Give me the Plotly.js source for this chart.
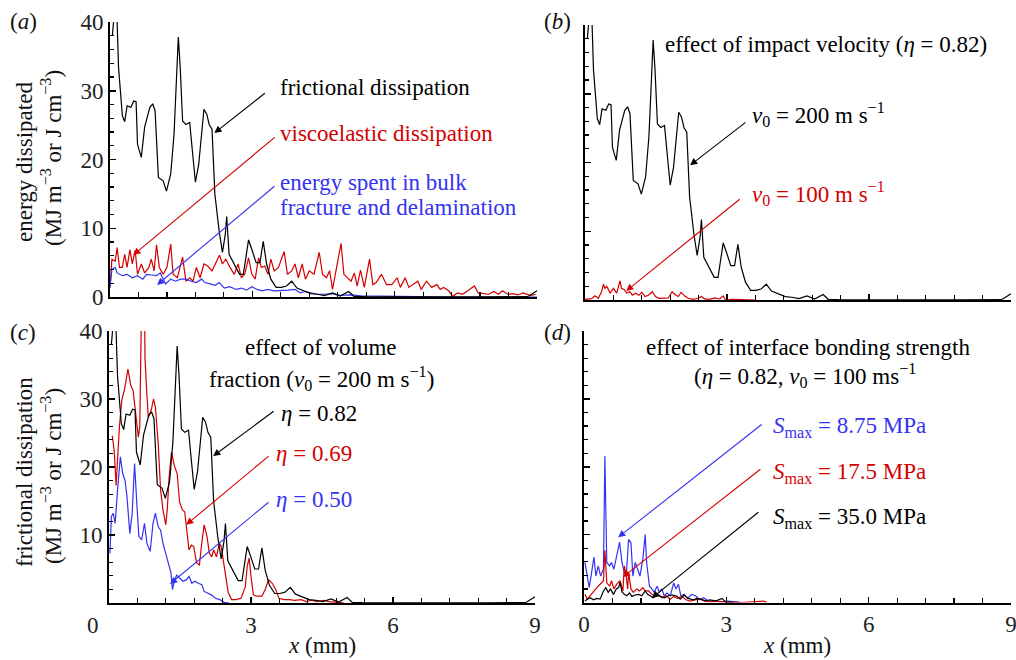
<!DOCTYPE html>
<html><head><meta charset="utf-8">
<script src="https://cdn.plot.ly/plotly-3.0.1.min.js"></script>
<style>html,body{margin:0;padding:0;background:#fff}#chart{width:1016px;height:660px}</style>
</head><body><div id="chart"></div>
<script>
// ---- data (x in mm, energy in MJ m^-3) ----
// frictional dissipation, eta = 0.82, v0 = 200 m/s (panels a, b, c)
const fricX = [0.05,0.1,0.15,0.18,0.26,0.31,0.36,0.44,0.50,0.55,0.58,0.66,0.73,0.84,0.90,0.95,1.02,1.12,1.19,1.28,1.35,1.41,1.44,1.48,1.53,1.60,1.68,1.73,1.80,1.87,1.93,1.98,2.04,2.09,2.15,2.21,2.30,2.37,2.43,2.46,2.51,2.62,2.73,2.81,2.86,2.92,2.99,3.08,3.16,3.23,3.30,3.39,3.50,3.61,3.72,3.83,3.94,4.08,4.23,4.37,4.52,4.69,4.85,5.03,5.14,5.36,6.0,7.0,8.0,8.8,9.0];
const fricY = [38,42,40,33.4,26.4,25.5,27.8,27.6,28.5,28.4,22.2,20.3,24.7,27.6,28.1,27.1,17.4,16.9,15.4,17.9,23.7,33.4,37.8,33.4,25.6,25.1,25.4,21.7,16.7,19.3,23.7,27.3,26.6,25.1,24.4,15.0,9.6,6.5,9.1,11.7,6.2,4.8,3.3,3.3,5.7,8.3,6.9,5.0,5.0,8.1,4.8,2.6,1.4,1.4,1.6,2.3,1.3,0.9,0.5,0.4,0.2,0.6,0.15,0.8,0.1,0.05,0.02,0.02,0.03,0.05,0.9];
// viscoelastic dissipation (panel a)
const viscX = [0,0.04,0.11,0.15,0.2,0.26,0.31,0.36,0.42,0.47,0.53,0.58,0.66,0.73,0.82,0.87,0.93,0.98,1.04,1.12,1.2,1.28,1.33,1.42,1.53,1.6,1.68,1.75,1.82,1.9,1.98,2.06,2.15,2.24,2.31,2.37,2.44,2.53,2.62,2.7,2.77,2.84,2.92,2.99,3.06,3.13,3.19,3.26,3.33,3.39,3.46,3.55,3.67,3.74,3.83,3.9,3.97,4.05,4.12,4.2,4.3,4.41,4.48,4.56,4.63,4.69,4.77,4.87,4.93,5.01,5.08,5.15,5.21,5.28,5.36,5.47,5.54,5.61,5.72,5.83,5.94,6.05,6.12,6.22,6.3,6.38,6.49,6.56,6.67,6.78,6.89,6.96,7.03,7.14,7.22,7.33,7.43,7.54,7.68,7.76,7.87,7.98,8.09,8.19,8.27,8.38,8.49,8.6,8.71,8.86,8.97];
const viscY = [1.4,5.5,5.2,7.2,4.3,4.3,6.2,4.3,6.9,4.8,6.8,3.3,4.8,3.5,4.3,5.5,3.8,7.6,4.3,3.3,4.3,7.7,3.3,2.8,5.8,2.3,2.8,2.3,4.3,2.8,4.8,4.5,3.8,5.2,6.1,4.8,5.5,4.3,3.3,4.8,2.8,3.3,5.7,3.3,2.6,5.7,4.3,4.5,3.3,5.5,3.8,4.3,6.6,3.3,3.8,4.8,2.8,4.8,2.6,3.8,3.3,6.5,3.3,2.8,3.8,1.1,4.3,7.8,3.3,2.8,2.3,3.5,1.6,3.9,1.4,5.5,1.8,2.1,3.3,1.8,1.8,2.8,1.4,2.8,1.4,1.8,2.3,1.1,2.3,1.4,1.8,1.1,1.4,0.9,0.1,0.6,0.4,0.9,1.6,0.6,0.5,0.4,0.8,0.4,0.9,0.4,0.5,0.3,0.6,0.2,0.4];
// energy spent in bulk fracture and delamination (panel a)
const bulkX = [0,0.04,0.11,0.15,0.26,0.36,0.47,0.58,0.69,0.77,0.88,0.98,1.06,1.17,1.28,1.38,1.49,1.6,1.71,1.82,1.93,2.0,2.11,2.22,2.3,2.41,2.52,2.66,2.77,2.88,2.99,3.1,3.21,3.32,3.46,3.61,3.75,3.9,4.01,4.12,4.23,4.37,4.52,4.7,4.85,5.07,5.29,5.65,6.0,6.5,7.2,9.0];
const bulkY = [1.4,4.0,4.3,3.5,3.1,3.3,2.8,3.1,2.6,3.3,3.2,3.1,3.5,1.9,2.6,2.3,2.6,2.6,2.3,2.1,2.6,2.1,1.9,1.7,2.1,1.3,1.5,1.1,1.3,1.0,1.5,1.1,0.9,1.1,0.9,0.9,1.0,1.1,0.6,0.8,0.6,0.4,0.4,0.5,0.25,0.3,0.15,0.1,0.05,0.05,0,0];
// frictional dissipation, v0 = 100 m/s (panel b)
const v100X = [0,0.14,0.21,0.28,0.35,0.39,0.42,0.46,0.53,0.6,0.67,0.74,0.77,0.83,0.88,0.95,1.0,1.07,1.14,1.2,1.27,1.34,1.42,1.49,1.56,1.65,1.76,1.84,1.9,1.97,2.03,2.1,2.18,2.29,2.39,2.46,2.53,2.64,2.74,2.85,2.92,2.97,3.09,3.31,3.59];
const v100Y = [0.1,0.2,0.6,0.25,1.2,2.3,1.7,2.0,1.0,1.7,1.0,2.8,1.7,1.5,1.0,1.2,0.7,1.0,0.7,1.1,0.5,0.7,1.2,0.5,0.25,0.3,0.3,1.2,0.8,0.5,1.1,0.6,0.25,0.1,0.25,0.5,0.15,0.1,0.3,0.15,0.6,0,0.1,0.05,0];
// frictional dissipation, eta = 0.69 (panel c)
const eta69X = [0.07,0.11,0.15,0.18,0.22,0.27,0.33,0.4,0.46,0.51,0.56,0.62,0.65,0.69,0.75,0.76,0.8,0.83,0.89,0.94,0.98,1.04,1.09,1.14,1.2,1.23,1.27,1.32,1.38,1.44,1.49,1.55,1.6,1.63,1.69,1.74,1.79,1.85,1.91,1.96,2.01,2.07,2.12,2.17,2.21,2.27,2.33,2.37,2.42,2.47,2.52,2.59,2.68,2.79,2.88,2.92,2.96,3.0,3.05,3.12,3.23,3.3,3.37,3.45,3.52,3.59,3.7,3.81,3.92,4.06,4.17,4.28,4.39,4.54,4.64,4.83,4.97];
const eta69Y = [24.6,22.4,17.3,22,25.9,29.8,31.5,34.4,32,31.2,28.3,24.4,25.9,45,45,36.1,30.7,27.3,28.3,30.0,28.8,23.4,16.6,13.7,11.5,13.7,18.5,22.2,20.2,19.0,14.9,13.7,13.4,11.7,7.8,8.5,8.3,5.9,5.6,8.8,11.5,9.8,7.3,6.8,7.8,6.8,8.8,8.3,5.9,3.4,1.5,0.5,0.5,0.7,2.4,5.4,6.6,3.9,1.2,1.0,1.0,2.0,3.4,2.9,2.0,0.7,0.5,0.5,0.4,0.5,0.2,0.4,0.2,0.4,0.2,0.1,0];
// frictional dissipation, eta = 0.50 (panel c)
const eta50X = [0.02,0.05,0.09,0.13,0.18,0.24,0.29,0.34,0.38,0.44,0.49,0.54,0.58,0.63,0.69,0.75,0.8,0.87,0.93,0.98,1.04,1.09,1.14,1.2,1.26,1.31,1.34,1.38,1.43,1.49,1.56,1.63,1.69,1.75,1.81,1.89,1.96,2.01,2.08,2.16,2.25,2.34,2.43,2.54];
const eta50Y = [7.3,12.7,13.2,11.7,16.6,21.5,19.0,18.0,15.6,10.2,13.2,20.5,15.6,9.8,9.3,11.7,8.8,7.6,11.7,13.2,11.2,10.7,8.8,7.3,5.4,4.4,2.0,3.2,4.1,3.7,3.2,3.4,3.9,2.9,3.2,2.9,2.7,1.7,1.5,1.2,0.7,0.5,0.1,0];
// interface bonding strength, eta = 0.82, v0 = 100 m/s (panel d)
const s875X = [0.02,0.06,0.11,0.16,0.21,0.25,0.3,0.35,0.41,0.44,0.48,0.54,0.58,0.63,0.69,0.75,0.8,0.85,0.89,0.94,0.99,1.03,1.08,1.13,1.18,1.24,1.29,1.32,1.38,1.43,1.48,1.54,1.59,1.64,1.69,1.75,1.82,1.89,1.94,1.99,2.04,2.11,2.18,2.27,2.35,2.44,2.52,2.63,2.73,2.87,3.01,3.23,3.3];
const s875Y = [5.9,3.9,2.2,4.4,6.7,3.9,5.4,3.9,4.9,21.6,5.9,5.4,5.9,4.9,6.8,8.9,5.9,4.4,3.9,9.3,8.8,3.9,5.9,4.9,3.9,6.4,10.0,5.9,2.4,2.0,1.5,2.4,1.5,2.0,1.0,1.4,1.0,2.9,2.0,2.7,1.0,1.2,0.6,1.2,1.0,0.4,0.7,0.2,0.3,0.1,0.2,0.1,0];
const s175X = [0.02,0.07,0.13,0.2,0.25,0.3,0.35,0.41,0.44,0.48,0.54,0.58,0.63,0.69,0.76,0.82,0.85,0.89,0.92,0.94,0.99,1.04,1.11,1.17,1.24,1.29,1.36,1.43,1.5,1.57,1.64,1.73,1.82,1.89,1.97,2.06,2.15,2.24,2.35,2.45,2.56,2.66,2.8,3.01,3.3,3.79,3.86];
const s175Y = [1.2,0.5,1.0,1.5,2.0,2.4,2.7,3.2,7.7,2.9,2.4,3.2,2.0,2.7,3.2,1.7,5.4,3.9,2.0,4.4,2.0,1.5,2.0,1.7,2.2,1.7,1.7,1.2,1.0,1.2,0.7,1.0,0.5,0.9,0.6,0.9,0.4,0.2,0.4,0.5,0.15,0.1,0.2,0.05,0,0.2,0];
const s350X = [0.02,0.13,0.2,0.27,0.34,0.41,0.46,0.51,0.56,0.62,0.68,0.73,0.76,0.8,0.85,0.9,0.96,1.01,1.08,1.15,1.22,1.29,1.34,1.39,1.46,1.54,1.61,1.69,1.78,1.87,1.96,2.03,2.11,2.2,2.3,2.38,2.46,2.56,2.66,2.77,2.91,2.98,3.15];
const s350Y = [0.25,0.7,0.4,0.6,0.5,1.7,2.2,1.5,2.0,1.2,2.0,2.2,3.0,1.6,1.2,1.0,1.4,0.9,1.1,1.2,1.0,1.7,1.2,1.0,0.7,1.1,0.9,0.7,1.0,1.1,0.9,0.5,1.1,0.6,0.4,0.6,0.5,0.25,0.4,0.2,0.6,0.1,0];
const xTickVals = [0,3,6,9];
const yTickVals = [0,10,20,30,40];

// ---- layout ----
const W = 1016, H = 660;
const RED = '#d40000', BLUE = '#3333f0', BLACK = '#000000';
const SERIF = 'Liberation Serif, Times New Roman, serif';
const FS = 23;
const px = (a,b)=>[a/W,b/W];
const py = (top,bot)=>[1-bot/H,1-top/H];

function tr(x,y,color,xa,ya){
  return {x:x,y:y,type:'scatter',mode:'lines',line:{color:color,width:1.2},xaxis:xa,yaxis:ya,hoverinfo:'skip',showlegend:false};
}
const data = [
  tr(viscX,viscY,RED,'x','y'),
  tr(bulkX,bulkY,BLUE,'x','y'),
  tr(fricX,fricY,BLACK,'x','y'),
  tr(v100X,v100Y,RED,'x2','y2'),
  tr(fricX,fricY,BLACK,'x2','y2'),
  tr(eta50X,eta50Y,BLUE,'x3','y3'),
  tr(eta69X,eta69Y,RED,'x3','y3'),
  tr(fricX,fricY,BLACK,'x3','y3'),
  tr(s875X,s875Y,BLUE,'x4','y4'),
  tr(s175X,s175Y,RED,'x4','y4'),
  tr(s350X,s350Y,BLACK,'x4','y4')
];

function xax(dom, anchor, labels, text){
  return {domain:dom, anchor:anchor, range:[0,9], showgrid:false, zeroline:false,
    showline:true, linecolor:'#000', linewidth:2, ticks:'inside', ticklen:6, tickwidth:1.5, tickcolor:'#000',
    tickvals:xTickVals, ticktext:text, showticklabels:labels, ticklabeloverflow:'allow',
    tickfont:{family:SERIF,size:FS,color:'#222'},
    minor:{dtick:0.6, tick0:0, ticks:'inside', ticklen:5, tickwidth:1.2, tickcolor:'#000'},
    fixedrange:true};
}
function yax(dom, anchor, labels, vals){
  return {domain:dom, anchor:anchor, range:[0,40], showgrid:false, zeroline:false,
    showline:true, linecolor:'#000', linewidth:2, ticks:'inside', ticklen:6, tickwidth:1.5, tickcolor:'#000',
    tickvals:vals, showticklabels:labels, ticklabeloverflow:'allow',
    tickfont:{family:SERIF,size:FS,color:'#222'},
    minor:{dtick:2, tick0:0, ticks:'inside', ticklen:4, tickwidth:1.2, tickcolor:'#000'},
    fixedrange:true};
}

function txt(x,y,text,color,anchor){
  return {xref:'paper',yref:'paper',x:x/W,y:1-y/H,text:text,showarrow:false,xanchor:anchor||'left',yanchor:'middle',
    font:{family:SERIF,size:FS,color:color||'#111'}};
}
function arr(xr,yr,x,y,ax,ay,color){
  return {xref:xr,yref:yr,x:x,y:y,ax:ax,ay:ay,text:'',showarrow:true,arrowhead:2,arrowsize:1.3,arrowwidth:1.1,arrowcolor:color};
}
function ytitle(x,y,text){
  return {xref:'paper',yref:'paper',x:x/W,y:1-y/H,text:text,showarrow:false,textangle:-90,xanchor:'center',yanchor:'middle',
    font:{family:SERIF,size:FS,color:'#111'}};
}

const annotations = [
  // panel labels
  txt(23,21,'(<i>a</i>)','#111','center'),
  txt(557,21,'(<i>b</i>)','#111','center'),
  txt(23,332,'(<i>c</i>)','#111','center'),
  txt(557,332,'(<i>d</i>)','#111','center'),
  // y titles
  ytitle(24,162,'energy dissipated'),
  ytitle(51,158,'(MJ m<sup>−3</sup> or J cm<sup>−3</sup>)'),
  ytitle(24,472,'frictional dissipation'),
  ytitle(51,476,'(MJ m<sup>−3</sup> or J cm<sup>−3</sup>)'),
  // x titles
  txt(322,645,'<i>x</i> (mm)','#111','center'),
  txt(797,645,'<i>x</i> (mm)','#111','center'),
  // shifted zero label of panel c
  txt(93,625,'0','#222','center'),
  // panel a
  txt(278,87,'frictional dissipation',BLACK),
  txt(278,134,'viscoelastic dissipation',RED),
  txt(278,182,'energy spent in bulk',BLUE),
  txt(278,207,'fracture and delamination',BLUE),
  arr('x','y',2.2,23.85,52,-41,BLACK),
  arr('x','y',0.49,6.1,143,-119,RED),
  arr('x','y',0.99,1.75,119,-100,BLUE),
  // panel b
  txt(663,45,'effect of impact velocity (<i>η</i> = 0.82)',BLACK),
  txt(750,114,'<i>v</i><sub>0</sub> = 200 m s<sup>−1</sup>',BLACK),
  txt(750,193,'<i>v</i><sub>0</sub> = 100 m s<sup>−1</sup>',RED),
  arr('x2','y2',2.22,19.6,57,-44,BLACK),
  arr('x2','y2',0.87,1.3,115,-93,RED),
  // panel c
  txt(321,348,'effect of volume',BLACK,'center'),
  txt(321,378,'fraction (<i>v</i><sub>0</sub> = 200 m s<sup>−1</sup>)',BLACK,'center'),
  txt(279,413,'<i>η</i> = 0.82',BLACK),
  txt(274,453,'<i>η</i> = 0.69',RED),
  txt(274,499,'<i>η</i> = 0.50',BLUE),
  arr('x3','y3',2.2,21.6,62,-46,BLACK),
  arr('x3','y3',1.63,11.5,84,-70,RED),
  arr('x3','y3',1.29,2.8,100,-83,BLUE),
  // panel d
  txt(808,347,'effect of interface bonding strength',BLACK,'center'),
  txt(805,375,'(<i>η</i> = 0.82, <i>v</i><sub>0</sub> = 100 ms<sup>−1</sup>',BLACK,'center'),
  txt(771,427,'<i>S</i><sub>max</sub> = 8.75 MPa',BLUE),
  txt(771,473,'<i>S</i><sub>max</sub> = 17.5 MPa',RED),
  txt(771,518,'<i>S</i><sub>max</sub> = 35.0 MPa',BLACK),
  arr('x4','y4',0.72,9.6,145,-114,BLUE),
  arr('x4','y4',0.82,3.75,139,-109,RED),
  arr('x4','y4',1.43,0.66,108,-87,BLACK)
];

const layout = {
  width:W, height:H, margin:{l:0,r:0,t:0,b:0}, paper_bgcolor:'#fff', plot_bgcolor:'rgba(0,0,0,0)',
  showlegend:false, font:{family:SERIF,size:FS,color:'#111'},
  xaxis: xax(px(110,537),'y',false),
  yaxis: yax(py(22,297),'x',true,yTickVals),
  xaxis2: xax(px(585,1011),'y2',false),
  yaxis2: yax(py(25,300),'x2',false,yTickVals),
  xaxis3: xax(px(109,535),'y3',true,['','3','6','9']),
  yaxis3: yax(py(331,603),'x3',true,[10,20,30,40]),
  xaxis4: xax(px(584,1011),'y4',true,['0','3','6','9']),
  yaxis4: yax(py(331,602.5),'x4',false,yTickVals),
  annotations: annotations
};
Plotly.newPlot('chart', data, layout, {displayModeBar:false, staticPlot:true});
</script>
</body></html>
